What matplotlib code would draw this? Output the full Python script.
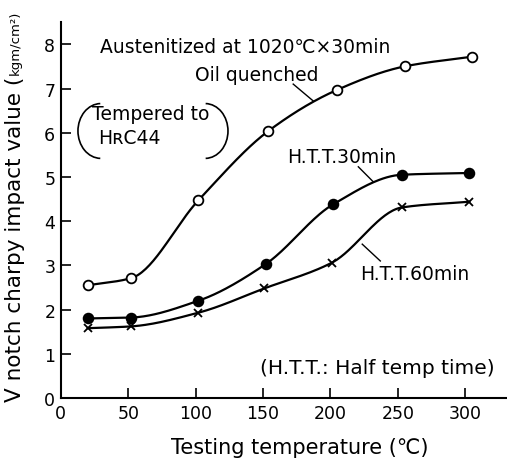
import numpy as np
import matplotlib
matplotlib.use("Agg")
import matplotlib.pyplot as plt
from matplotlib.patches import Arc

# data
temp_oil = [20, 52, 102, 154, 205, 255, 305]
impact_oil = [2.55, 2.71, 4.47, 6.04, 6.97, 7.50, 7.72]

temp_30 = [20, 52, 102, 152, 202, 253, 303]
impact_30 = [1.80, 1.82, 2.20, 3.03, 4.38, 5.05, 5.09]

temp_60 = [20, 52, 102, 151, 201, 253, 303]
impact_60 = [1.58, 1.62, 1.93, 2.48, 3.06, 4.31, 4.44]

xticks = [0, 50, 100, 150, 200, 250, 300]
yticks = [0, 1, 2, 3, 4, 5, 6, 7, 8]


def pchip(x, y, n=200):
    # monotone cubic curve through the measured points
    x = np.asarray(x, float)
    y = np.asarray(y, float)
    h = np.diff(x)
    d = np.diff(y) / h
    m = np.zeros_like(y)
    for k in range(1, len(x) - 1):
        if d[k - 1] * d[k] > 0:
            w1 = 2 * h[k] + h[k - 1]
            w2 = h[k] + 2 * h[k - 1]
            m[k] = (w1 + w2) / (w1 / d[k - 1] + w2 / d[k])
    m[0] = d[0]
    m[-1] = d[-1]
    xs = np.linspace(x[0], x[-1], n)
    idx = np.clip(np.searchsorted(x, xs) - 1, 0, len(x) - 2)
    t = (xs - x[idx]) / h[idx]
    h00 = 2 * t**3 - 3 * t**2 + 1
    h10 = t**3 - 2 * t**2 + t
    h01 = -2 * t**3 + 3 * t**2
    h11 = t**3 - t**2
    ys = h00 * y[idx] + h10 * h[idx] * m[idx] + h01 * y[idx + 1] + h11 * h[idx] * m[idx + 1]
    return xs, ys


plt.rcParams['font.family'] = ['DejaVu Sans']
W, H = 507, 464

fig = plt.figure(figsize=(W / 100, H / 100), dpi=100)
ax = fig.add_axes([0.120, 0.140, 0.880, 0.810])

for tx, iy, mk, fc, ms in [
    (temp_oil, impact_oil, 'o', 'white', 7),
    (temp_30, impact_30, 'o', 'black', 7),
    (temp_60, impact_60, 'x', 'black', 5.5),
]:
    xs, ys = pchip(tx, iy)
    ax.plot(xs, ys, color='black', lw=1.6, zorder=2)
    ax.plot(tx, iy, linestyle='none', marker=mk, ms=ms, mfc=fc, mec='black',
            mew=1.3, zorder=3)

ax.set_xlim(0, 331)
ax.set_ylim(0, 8.5)
ax.set_xticks(xticks)
ax.set_yticks(yticks)
ax.tick_params(direction='in', length=7, width=1.2, labelsize=12.5, pad=4)
ax.spines['top'].set_visible(False)
ax.spines['right'].set_visible(False)
ax.spines['left'].set_linewidth(1.5)
ax.spines['bottom'].set_linewidth(1.5)

ax.set_xlabel('Testing temperature (\u2103)', fontsize=15, labelpad=9)
ax.xaxis.set_label_coords(0.536, -0.104)

# y label: main part plus a smaller unit, placed end to end
ylab = fig.text(0.030, 1 - 402 / H, 'V notch charpy impact value (',
                rotation=90, fontsize=15.5, ha='center', va='bottom')
fig.canvas.draw()
top = ylab.get_window_extent().y1 / H
fig.text(0.030, top + 0.004, 'kgm/cm\u00b2)', rotation=90, fontsize=9.5,
         ha='center', va='bottom')

fs = 13.5
ax.text(29, 7.96, 'Austenitized at 1020\u2103\u00d730min', fontsize=fs, va='center')
ax.text(99.6, 7.31, 'Oil quenched', fontsize=fs, va='center')
ax.plot([172.4, 187.2], [7.10, 6.72], color='black', lw=1)

ax.text(23, 6.43, 'Tempered to', fontsize=fs, va='center')
ax.text(27.5, 5.90, 'H\u0280C44', fontsize=fs, va='center')
ax.add_patch(Arc((29.7, 6.04), 34, 1.24, theta1=125, theta2=235, color='black', lw=1.2))
ax.add_patch(Arc((107, 6.04), 34, 1.24, theta1=-55, theta2=55, color='black', lw=1.2))

ax.text(168, 5.47, 'H.T.T.30min', fontsize=fs, va='center')
ax.plot([220.7, 231.8], [5.23, 4.89], color='black', lw=1)
ax.text(222, 2.81, 'H.T.T.60min', fontsize=fs, va='center')
ax.plot([223.6, 237.0], [3.48, 3.10], color='black', lw=1)

ax.text(148, 0.70, '(H.T.T.: Half temp time)', fontsize=14.5, va='center')

fig.savefig('out.png', dpi=100)
